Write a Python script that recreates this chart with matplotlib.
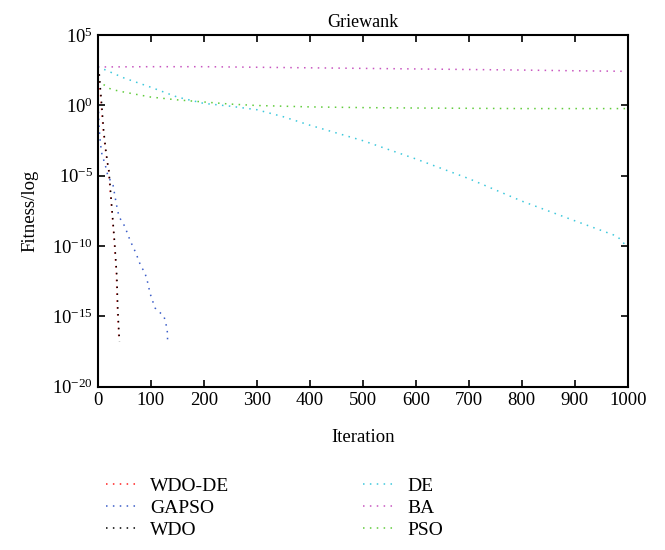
import numpy as np
import matplotlib
matplotlib.use('Agg')
import matplotlib.pyplot as plt
from matplotlib.ticker import NullLocator

# Convergence curves on Griewank, stored as log10(fitness) per iteration
wdode_iter = [0, 2, 4, 6, 8, 10, 14, 18, 20, 27, 31, 35, 37, 40]
wdode_log = [2.7, 2.3, 1.3, 0.4, -0.6, -1.6, -3.0, -4.1, -4.4, -7.7, -9.6, -11.9, -14.4, -16.7]

wdo_iter = [0, 3, 5, 7, 9, 11, 15, 19, 21, 28, 32, 36, 38, 41]
wdo_log = [2.7, 2.2, 1.2, 0.3, -0.7, -1.7, -3.1, -4.2, -4.6, -7.9, -9.8, -12.1, -14.6, -16.8]

gapso_iter = [0, 2, 5, 8, 14, 19, 29, 35, 40, 51, 61, 72, 82, 88, 93, 99, 108, 125, 131, 132]
gapso_log = [2.0, -1.3, -2.7, -3.5, -4.2, -5.0, -5.7, -7.0, -7.9, -8.6, -9.6, -10.5, -11.5, -11.8, -12.4,
             -13.4, -14.4, -15.0, -15.9, -16.9]

de_iter = [0, 10, 50, 100, 150, 200, 250, 300, 350, 400, 500, 600, 700, 800, 900, 980, 1000]
de_log = [2.75, 2.6, 1.95, 1.3, 0.6, 0.15, -0.05, -0.3, -0.8, -1.4, -2.5, -3.8, -5.2, -6.8, -8.2, -9.3, -10.1]

ba_iter = [0, 100, 200, 300, 400, 500, 600, 700, 800, 900, 1000]
ba_log = [2.74, 2.76, 2.76, 2.72, 2.68, 2.64, 2.6, 2.56, 2.52, 2.47, 2.43]

pso_iter = [0, 25, 50, 100, 150, 200, 250, 300, 400, 500, 600, 700, 800, 900, 1000]
pso_log = [1.75, 1.15, 0.95, 0.6, 0.4, 0.25, 0.1, 0.0, -0.1, -0.15, -0.18, -0.2, -0.22, -0.22, -0.22]

series = [
    ('WDO-DE', wdode_iter, wdode_log, '#ff2020'),
    ('GAPSO', gapso_iter, gapso_log, '#3a5cc8'),
    ('WDO', wdo_iter, wdo_log, '#000000'),
    ('DE', de_iter, de_log, '#3cc8dc'),
    ('BA', ba_iter, ba_log, '#c856c0'),
    ('PSO', pso_iter, pso_log, '#60cc3c'),
]

plt.rcParams['font.family'] = ['Liberation Serif', 'DejaVu Serif']
plt.rcParams['mathtext.fontset'] = 'stix'

fig = plt.figure(figsize=(6.65, 5.5), dpi=100)
ax = fig.add_axes([0.147, 0.297, 0.797, 0.639])

for name, it, lg, col in series:
    ax.plot(it, 10.0 ** np.array(lg), color=col, lw=1.1,
            linestyle=(0, (1, 3.5)), label=name)

ax.set_yscale('log')
ax.set_xlim(0, 1000)
ax.set_ylim(1e-20, 1e5)
ax.set_yticks([1e5, 1e0, 1e-5, 1e-10, 1e-15, 1e-20])
ax.yaxis.set_minor_locator(NullLocator())
ax.set_xticks(np.arange(0, 1001, 100))

ax.tick_params(direction='in', top=True, right=True, labelsize=13.5, length=5, width=1.2)
for s in ax.spines.values():
    s.set_linewidth(1.5)

ax.set_title('Griewank', fontsize=13, pad=6)
ax.set_xlabel('Iteration', fontsize=13.5, labelpad=15)
ax.set_ylabel('Fitness/log', fontsize=13.5, labelpad=10)

fig.legend(loc='upper left', bbox_to_anchor=(0.148, 0.146), ncol=2, frameon=False,
           fontsize=14, handlelength=1.75, handletextpad=0.5, columnspacing=6.9,
           labelspacing=0.22, borderaxespad=0)

fig.savefig('out.png', dpi=100)
